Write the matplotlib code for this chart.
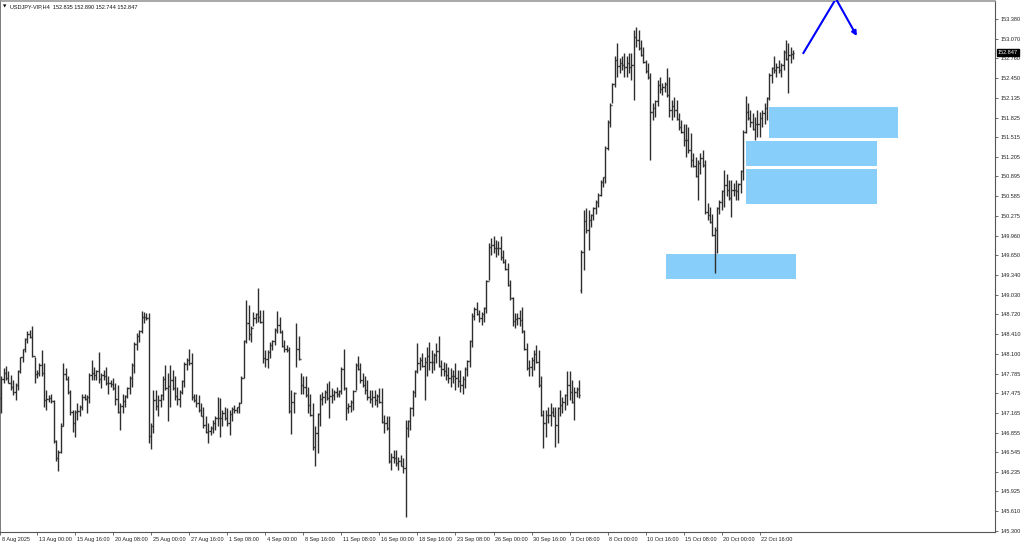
import matplotlib
matplotlib.use("Agg")
import matplotlib.pyplot as plt
import numpy as np
from matplotlib.collections import LineCollection
from matplotlib.patches import Rectangle
from matplotlib.transforms import blended_transform_factory, ScaledTranslation

plt.rcParams['font.family'] = ['Liberation Sans', 'DejaVu Sans']

# ---------------- data ----------------
symbol = "USDJPY-VIP,H4"
last_ohlc = [152.835, 152.890, 152.744, 152.847]

highs = [
    147.74, 147.87, 147.91, 147.82, 147.76, 147.68, 147.63, 147.84, 148.05, 148.18,
    148.34, 148.45, 148.47, 148.53, 148.05, 147.84, 147.95, 148.16, 147.95, 147.53,
    147.45, 147.47, 147.37, 146.74, 146.58, 147.00, 147.95, 147.87, 147.74, 147.53,
    147.21, 147.21, 147.32, 147.29, 147.47, 147.47, 147.45, 147.79, 148.00, 147.89,
    147.84, 148.13, 147.79, 147.84, 147.89, 147.74, 147.68, 147.71, 147.63, 147.61,
    147.32, 147.47, 147.45, 147.58, 147.74, 147.95, 148.29, 148.42, 148.47, 148.78,
    148.76, 148.74, 148.74, 147.00, 147.53, 147.53, 147.45, 147.47, 147.74, 147.92,
    147.79, 147.92, 147.84, 147.74, 147.58, 147.53, 147.68, 147.97, 148.03, 148.18,
    148.11, 147.47, 147.47, 147.45, 147.32, 147.26, 147.11, 147.00, 146.95, 147.05,
    147.11, 147.42, 147.40, 147.21, 147.26, 147.24, 147.21, 147.26, 147.29, 147.26,
    147.34, 147.74, 148.32, 148.95, 148.87, 148.53, 148.76, 148.74, 149.13, 148.79,
    148.79, 148.16, 148.16, 148.29, 148.32, 148.50, 148.78, 148.68, 148.47, 148.32,
    148.24, 148.21, 147.53, 147.50, 148.58, 148.37, 147.79, 147.74, 147.74, 147.58,
    147.47, 147.32, 146.95, 147.16, 147.47, 147.50, 147.53, 147.63, 147.66, 147.55,
    147.53, 147.58, 147.53, 147.89, 148.18, 147.58, 147.32, 147.37, 147.53, 147.95,
    148.06, 147.95, 147.79, 147.74, 147.68, 147.53, 147.53, 147.53, 147.47, 147.55,
    147.55, 147.13, 147.11, 147.11, 146.53, 146.58, 146.58, 146.47, 146.50, 146.45,
    147.05, 147.05, 147.26, 147.53, 147.84, 148.26, 148.05, 148.11, 148.05, 148.21,
    148.29, 148.16, 148.11, 148.26, 148.38, 148.00, 147.97, 147.95, 147.89, 147.87,
    147.84, 147.95, 147.84, 147.84, 147.74, 147.89, 148.00, 148.32, 148.74, 148.84,
    148.92, 148.79, 148.76, 148.84, 149.26, 149.84, 149.92, 149.96, 149.89, 149.87,
    149.96, 149.74, 149.60, 149.53, 149.26, 149.00, 148.74, 148.74, 148.79, 148.84,
    148.47, 148.26, 148.00, 148.05, 148.16, 148.24, 148.16, 147.74, 147.21, 147.21,
    147.26, 147.32, 147.26, 147.26, 147.26, 147.53, 147.42, 147.47, 147.82, 147.83,
    147.68, 147.58, 147.58, 147.68, 149.74, 150.37, 150.39, 150.37, 150.31, 150.42,
    150.52, 150.63, 150.84, 150.89, 151.37, 151.79, 152.05, 152.37, 152.79, 153.00,
    152.76, 152.79, 152.84, 152.79, 152.84, 152.84, 153.21, 153.26, 153.21, 153.05,
    152.94, 152.73, 152.68, 152.52, 152.05, 152.10, 152.42, 152.47, 152.37, 152.39,
    152.60, 152.47, 152.10, 152.15, 152.10, 151.89, 151.79, 151.73, 151.73, 151.68,
    151.58, 151.26, 151.21, 151.16, 151.26, 151.31, 151.16, 150.47, 150.42, 150.31,
    150.10, 150.42, 150.52, 150.68, 151.00, 150.94, 150.84, 150.84, 150.79, 150.84,
    150.79, 151.00, 151.63, 152.17, 152.05, 151.94, 151.89, 151.84, 151.94, 151.92,
    151.94, 152.05, 152.15, 152.52, 152.63, 152.79, 152.68, 152.73, 152.68, 152.89,
    153.05, 153.00, 152.94, 152.89,
]

lows = [
    147.16, 147.63, 147.68, 147.63, 147.53, 147.45, 147.37, 147.53, 147.79, 147.97,
    148.13, 148.26, 148.34, 148.05, 147.63, 147.71, 147.74, 147.74, 147.26, 147.21,
    147.34, 147.32, 146.69, 146.40, 146.24, 146.53, 146.95, 147.68, 147.47, 147.13,
    146.87, 146.79, 147.05, 147.11, 147.21, 147.37, 147.16, 147.32, 147.68, 147.68,
    147.68, 147.63, 147.55, 147.68, 147.61, 147.47, 147.58, 147.53, 147.29, 147.16,
    146.90, 147.16, 147.26, 147.40, 147.47, 147.58, 147.79, 148.16, 148.29, 148.42,
    148.58, 148.63, 146.69, 146.59, 146.84, 147.21, 147.11, 147.26, 147.37, 147.53,
    147.03, 147.26, 147.53, 147.37, 147.29, 147.26, 147.47, 147.58, 147.84, 147.92,
    147.37, 147.34, 147.26, 147.18, 147.11, 146.92, 146.84, 146.69, 146.82, 146.84,
    146.90, 146.95, 146.79, 146.95, 147.05, 146.95, 146.82, 147.03, 147.16, 147.16,
    147.16, 147.32, 147.71, 148.26, 148.32, 148.29, 148.53, 148.58, 148.60, 148.58,
    147.95, 147.89, 147.87, 148.03, 148.16, 148.24, 148.42, 148.42, 148.21, 148.13,
    148.13, 147.16, 146.83, 147.16, 147.89, 148.00, 147.47, 147.47, 147.42, 147.16,
    147.11, 146.58, 146.32, 146.53, 146.95, 147.29, 147.32, 147.37, 147.08, 147.32,
    147.37, 147.42, 147.42, 147.47, 147.53, 147.05, 147.16, 147.18, 147.21, 147.53,
    147.84, 147.63, 147.58, 147.47, 147.37, 147.32, 147.26, 147.29, 147.26, 147.32,
    147.00, 146.84, 146.90, 146.37, 146.26, 146.37, 146.32, 146.26, 146.32, 146.21,
    145.52, 146.79, 146.90, 147.11, 147.42, 147.79, 147.84, 147.89, 147.37, 147.74,
    147.84, 147.79, 147.84, 147.95, 147.89, 147.74, 147.74, 147.68, 147.63, 147.58,
    147.63, 147.53, 147.58, 147.50, 147.47, 147.55, 147.74, 147.89, 148.21, 148.63,
    148.71, 148.60, 148.55, 148.60, 148.74, 149.26, 149.66, 149.68, 149.63, 149.66,
    149.58, 149.53, 149.42, 149.16, 148.95, 148.53, 148.50, 148.55, 148.53, 148.42,
    148.16, 147.84, 147.74, 147.74, 147.84, 147.95, 147.58, 147.11, 146.61, 146.79,
    147.00, 146.95, 147.11, 146.63, 146.69, 147.11, 147.16, 147.21, 147.29, 147.37,
    147.32, 147.05, 147.42, 147.40, 149.05, 149.42, 150.00, 149.74, 150.10, 150.21,
    150.31, 150.42, 150.58, 150.73, 150.79, 151.31, 151.68, 152.05, 152.31, 152.47,
    152.52, 152.58, 152.47, 152.47, 152.52, 152.42, 152.10, 152.94, 152.89, 152.79,
    152.68, 152.52, 152.44, 151.16, 151.79, 151.84, 152.00, 152.21, 152.18, 152.23,
    152.15, 151.84, 151.79, 151.84, 151.79, 151.63, 151.58, 151.37, 151.21, 151.26,
    151.05, 151.05, 150.89, 150.52, 150.94, 151.05, 150.31, 150.21, 150.16, 149.95,
    149.37, 149.68, 150.31, 150.37, 150.42, 150.58, 150.52, 150.26, 150.58, 150.52,
    150.52, 150.63, 150.84, 151.58, 151.79, 151.68, 151.63, 151.47, 151.52, 151.52,
    151.68, 151.73, 151.79, 152.10, 152.37, 152.52, 152.47, 152.52, 152.47, 152.58,
    152.73, 152.21, 152.68, 152.744,
]

closes = [
    147.70, 147.79, 147.72, 147.64, 147.57, 147.50, 147.60, 147.82, 148.04, 148.17,
    148.33, 148.41, 148.36, 148.07, 147.78, 147.80, 147.92, 147.80, 147.37, 147.39,
    147.40, 147.35, 146.72, 146.45, 146.55, 146.95, 147.78, 147.70, 147.50, 147.18,
    147.00, 147.18, 147.20, 147.26, 147.42, 147.38, 147.42, 147.76, 147.79, 147.76,
    147.82, 147.70, 147.76, 147.75, 147.63, 147.63, 147.62, 147.55, 147.38, 147.18,
    147.28, 147.36, 147.43, 147.56, 147.72, 147.92, 148.25, 148.38, 148.45, 148.67,
    148.68, 148.66, 146.80, 146.96, 147.37, 147.28, 147.37, 147.44, 147.70, 147.56,
    147.59, 147.68, 147.56, 147.43, 147.39, 147.50, 147.66, 147.93, 148.00, 147.95,
    147.41, 147.37, 147.32, 147.21, 147.12, 146.97, 146.86, 146.88, 146.92, 147.00,
    147.08, 147.09, 147.08, 147.16, 147.09, 147.01, 147.14, 147.22, 147.21, 147.25,
    147.32, 147.72, 148.30, 148.59, 148.41, 148.50, 148.66, 148.72, 148.68, 148.60,
    148.03, 148.01, 148.12, 148.24, 148.30, 148.47, 148.55, 148.44, 148.22, 148.18,
    148.15, 147.20, 147.33, 147.48, 148.18, 148.02, 147.61, 147.58, 147.45, 147.29,
    147.13, 146.63, 146.84, 147.14, 147.39, 147.42, 147.50, 147.40, 147.43, 147.45,
    147.50, 147.47, 147.51, 147.85, 147.55, 147.24, 147.28, 147.34, 147.51, 147.92,
    147.86, 147.68, 147.61, 147.53, 147.42, 147.39, 147.41, 147.37, 147.43, 147.34,
    147.02, 147.00, 146.92, 146.40, 146.47, 146.45, 146.37, 146.41, 146.33, 146.29,
    146.92, 147.03, 147.24, 147.50, 147.82, 147.95, 148.00, 147.90, 147.97, 148.07,
    147.97, 147.97, 148.08, 148.14, 147.90, 147.86, 147.82, 147.76, 147.72, 147.74,
    147.74, 147.71, 147.67, 147.61, 147.70, 147.86, 147.98, 148.30, 148.70, 148.80,
    148.72, 148.66, 148.72, 148.82, 149.24, 149.79, 149.82, 149.76, 149.76, 149.77,
    149.63, 149.55, 149.44, 149.18, 148.97, 148.62, 148.64, 148.66, 148.63, 148.45,
    148.18, 147.87, 147.89, 148.00, 148.09, 147.97, 147.60, 147.13, 147.00, 147.13,
    147.13, 147.18, 147.12, 146.97, 147.24, 147.29, 147.34, 147.45, 147.60, 147.50,
    147.34, 147.50, 147.54, 147.45, 149.70, 150.19, 150.05, 150.21, 150.28, 150.40,
    150.50, 150.60, 150.81, 150.88, 151.35, 151.76, 152.02, 152.35, 152.73, 152.64,
    152.68, 152.65, 152.63, 152.68, 152.63, 152.65, 153.10, 153.05, 152.92, 152.81,
    152.70, 152.56, 152.46, 151.92, 151.97, 152.08, 152.34, 152.27, 152.31, 152.36,
    152.18, 151.94, 152.00, 151.94, 151.80, 151.68, 151.60, 151.47, 151.47, 151.31,
    151.16, 151.06, 150.91, 151.10, 151.18, 151.07, 150.34, 150.29, 150.18, 149.97,
    150.05, 150.40, 150.50, 150.66, 150.76, 150.68, 150.55, 150.68, 150.68, 150.66,
    150.77, 150.98, 151.60, 151.92, 151.81, 151.76, 151.65, 151.73, 151.72, 151.81,
    151.89, 151.97, 152.13, 152.50, 152.61, 152.58, 152.63, 152.58, 152.66, 152.86,
    152.75, 152.81, 152.835, 152.847,
]

# opens equal the previous close, except after the weekend gap
gap_opens = {0: 147.40, 244: 149.10}

price_ticks = [153.380, 153.070, 152.760, 152.450, 152.135, 151.825, 151.515,
               151.205, 150.895, 150.585, 150.275, 149.960, 149.650, 149.340,
               149.030, 148.720, 148.410, 148.100, 147.785, 147.475, 147.165,
               146.855, 146.545, 146.235, 145.925, 145.610, 145.300]

first_time_label = "8 Aug 2025"
time_labels = ["13 Aug 00:00", "15 Aug 16:00", "20 Aug 08:00", "25 Aug 00:00",
               "27 Aug 16:00", "1 Sep 08:00", "4 Sep 00:00", "8 Sep 16:00",
               "11 Sep 08:00", "16 Sep 00:00", "18 Sep 16:00", "23 Sep 08:00",
               "26 Sep 00:00", "30 Sep 16:00", "3 Oct 08:00", "8 Oct 00:00",
               "10 Oct 16:00", "15 Oct 08:00", "20 Oct 00:00", "22 Oct 16:00"]

# analyst zones: (bar start, bar end, price low, price high)
zone_x0 = [279.5, 322.8, 313.2, 313.2]
zone_x1 = [334.2, 377.1, 368.2, 368.2]
zone_lo = [149.28, 151.50, 151.06, 150.46]
zone_hi = [149.67, 151.99, 151.45, 151.01]

# projected path arrow (bar index, price)
arrow_x = [337.1, 351.0, 359.8]
arrow_y = [152.83, 153.70, 153.11]

# ---------------- figure ----------------
W, H = 1024, 544
fig = plt.figure(figsize=(W / 100, H / 100), dpi=100)
fig.patch.set_facecolor('white')
ax = fig.add_axes([0 / W, 12 / H, 995 / W, 531 / H])
ax.set_facecolor('white')

n = min(len(highs), len(lows), len(closes))
xs = np.arange(n)
opens = [closes[0]] + list(closes[:n - 1])
for k, v in gap_opens.items():
    if k < n:
        opens[k] = v

segs = []
for i in range(n):
    segs.append([(xs[i], lows[i]), (xs[i], highs[i])])
    segs.append([(xs[i] - 0.5, opens[i]), (xs[i], opens[i])])
    segs.append([(xs[i], closes[i]), (xs[i] + 0.5, closes[i])])
lc = LineCollection(segs, colors='#2e2e2e', linewidths=1.0, zorder=4)
ax.add_collection(lc)

for a, b, lo, hi in zip(zone_x0, zone_x1, zone_lo, zone_hi):
    ax.add_patch(Rectangle((a, lo), b - a, hi - lo, facecolor='#87cefa',
                           edgecolor='none', zorder=2))

ax.plot(arrow_x[:2], arrow_y[:2], color='#0000ff', lw=1.5, zorder=5,
        solid_capstyle='butt')
ax.annotate('', xy=(arrow_x[2], arrow_y[2]), xytext=(arrow_x[1], arrow_y[1]),
            arrowprops=dict(arrowstyle='-|>', color='#0000ff', lw=1.5,
                            mutation_scale=7, shrinkA=0, shrinkB=0),
            zorder=5, annotation_clip=False)

ax.set_xlim(-0.55, 417.9)
ax.set_ylim(145.285, 153.664)

# right price axis
ax.yaxis.tick_right()
ax.set_yticks(price_ticks)
ax.set_yticklabels([f"{p:.3f}" for p in price_ticks])
ax.tick_params(axis='y', direction='out', length=2.5, width=0.6, colors='#555555',
               labelsize=4, pad=1.5, labelcolor='#222222')

# time axis
tick_pos = [-0.5] + [15 + 16 * k for k in range(len(time_labels))]
ax.set_xticks(tick_pos)
ax.set_xticklabels([first_time_label] + time_labels)
ax.tick_params(axis='x', direction='out', length=2.5, width=0.6, colors='#555555',
               labelsize=4, pad=1.2, labelcolor='#222222')
off = ScaledTranslation(1.2 / 72, 0, fig.dpi_scale_trans)
for lab in ax.get_xticklabels():
    lab.set_horizontalalignment('left')
    lab.set_transform(lab.get_transform() + off)

for side, col, lw in [('left', '#7a7a7a', 1.4), ('top', '#9a9a9a', 1.2),
                      ('right', '#555555', 0.8), ('bottom', '#555555', 0.8)]:
    ax.spines[side].set_color(col)
    ax.spines[side].set_linewidth(lw)

# current price marker
trans = blended_transform_factory(ax.transAxes, ax.transData)
ax.text(1.0 + 3 / 995, last_ohlc[3], f"{last_ohlc[3]:.3f}", transform=trans,
        ha='left', va='center', fontsize=4, color='white',
        bbox=dict(boxstyle='square,pad=0.2', fc='black', ec='black'),
        clip_on=False, zorder=10)

# header
fig.text(3 / W, 1 - 6.5 / H, '▼', fontsize=3.2, family=['DejaVu Sans'],
         va='center', ha='left', color='black')
fig.text(10 / W, 1 - 6.5 / H,
         f"{symbol}  " + " ".join(f"{v:.3f}" for v in last_ohlc),
         fontsize=4, va='center', ha='left', color='#111111')

fig.savefig('out.png', dpi=100)
